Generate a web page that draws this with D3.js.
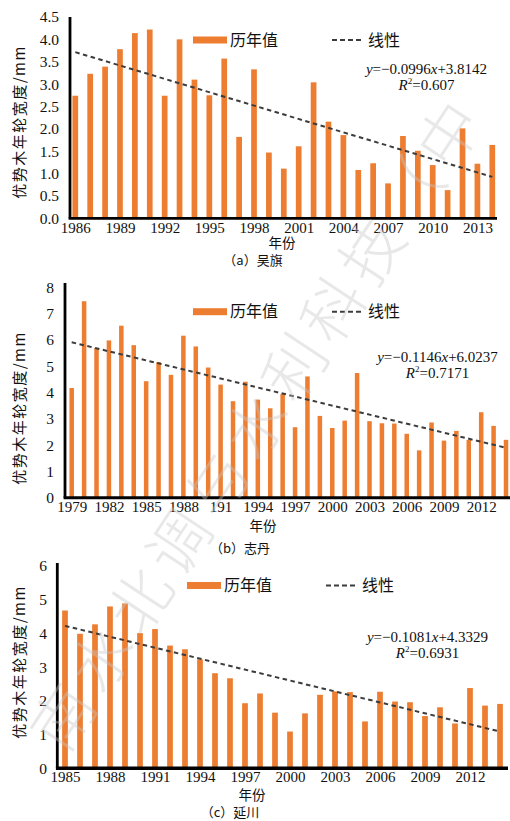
<!DOCTYPE html>
<html>
<head>
<meta charset="utf-8">
<script src="https://cdn.jsdelivr.net/npm/d3@7/dist/d3.min.js"></script>
<style>
  body { margin: 0; background: #fff; }
</style>
</head>
<body>
<svg id="chart" width="510" height="821"></svg>
<script>
// (a) 吴旗
var yearsA = [1986,1987,1988,1989,1990,1991,1992,1993,1994,1995,1996,1997,1998,1999,2000,
              2001,2002,2003,2004,2005,2006,2007,2008,2009,2010,2011,2012,2013,2014];
var valuesA = [2.74,3.23,3.39,3.78,4.14,4.22,2.74,4.00,3.10,2.75,3.57,1.82,3.33,1.47,1.11,
               1.61,3.04,2.16,1.86,1.08,1.23,0.78,1.84,1.51,1.19,0.63,2.01,1.22,1.64];
var tickYearsA = [1986,1989,1992,1995,1998,2001,2004,2007,2010,2013];
var tickLabelsA = ["1986","1989","1992","1995","1998","2001","2004","2007","2010","2013"];
var yTicksA = [0,0.5,1,1.5,2,2.5,3,3.5,4,4.5];
var trendA = [-0.0996, 3.8142];
var r2A = "0.607";

// (b) 志丹
var yearsB = [1979,1980,1981,1982,1983,1984,1985,1986,1987,1988,1989,1990,1991,1992,1993,1994,1995,1996,
              1997,1998,1999,2000,2001,2002,2003,2004,2005,2006,2007,2008,2009,2010,2011,2012,2013,2014];
var valuesB = [4.17,7.47,5.69,5.98,6.54,5.80,4.43,5.16,4.67,6.16,5.75,4.95,4.30,3.67,4.41,3.73,3.40,3.94,
               2.68,4.61,3.11,2.65,2.93,4.74,2.91,2.83,2.82,2.43,1.80,2.86,2.17,2.54,2.20,3.25,2.73,2.20];
var tickYearsB = [1979,1982,1985,1988,1991,1994,1997,2000,2003,2006,2009,2012];
var tickLabelsB = ["1979","1982","1985","1988","191","1994","1997","2000","2003","2006","2009","2012"];
var yTicksB = [0,1,2,3,4,5,6,7,8];
var trendB = [-0.1146, 6.0237];
var r2B = "0.7171";

// (c) 延川
var yearsC = [1985,1986,1987,1988,1989,1990,1991,1992,1993,1994,1995,1996,1997,1998,1999,
              2000,2001,2002,2003,2004,2005,2006,2007,2008,2009,2010,2011,2012,2013,2014];
var valuesC = [4.68,3.99,4.27,4.80,4.89,4.01,4.13,3.64,3.53,3.23,2.82,2.67,1.93,2.22,1.65,
               1.09,1.63,2.18,2.28,2.26,1.39,2.27,1.98,1.96,1.55,1.81,1.33,2.38,1.86,1.91];
var tickYearsC = [1985,1988,1991,1994,1997,2000,2003,2006,2009,2012];
var tickLabelsC = ["1985","1988","1991","1994","1997","2000","2003","2006","2009","2012"];
var yTicksC = [0,1,2,3,4,5,6];
var trendC = [-0.1081, 4.3329];
var r2C = "0.6931";

var watermark = ["南","水","北","调","与","水","利","科","技","（","中"];

var svg = d3.select("#chart");
var barColor = "#ED7D31";
var trendColor = "#3c3c3c";
var serif = "'Liberation Serif', 'Times New Roman', serif";
var cjk = "'Noto Sans CJK SC', sans-serif";

function drawPanel(p) {
  var g = svg.append("g");

  var x = d3.scalePoint().domain(p.years).range([p.xFirst, p.xLast]);
  var y = d3.scaleLinear().domain([0, p.yMax]).range([p.bottom, p.top]);

  // bars
  g.selectAll("rect.bar")
    .data(p.values)
    .enter().append("rect")
    .attr("class", "bar")
    .attr("x", function(d, i) { return x(p.years[i]) - p.barW / 2; })
    .attr("width", p.barW)
    .attr("y", function(d) { return y(d); })
    .attr("height", function(d) { return y(0) - y(d); })
    .attr("fill", barColor);

  // linear trend from the fitted equation, x = 1..n
  var n = p.years.length;
  var line = d3.line()
    .x(function(d) { return x(p.years[d - 1]); })
    .y(function(d) { return y(p.trend[0] * d + p.trend[1]); });
  g.append("path")
    .datum([1, n])
    .attr("d", line)
    .attr("fill", "none")
    .attr("stroke", trendColor)
    .attr("stroke-width", 2)
    .attr("stroke-dasharray", "4.5,3.5");

  // axes
  var yAxis = d3.axisLeft(y).tickValues(p.yTicks).tickSize(0).tickPadding(0)
    .tickFormat(d3.format(p.fmt));
  var ya = g.append("g").attr("transform", "translate(" + p.tickLabelX + ",0)").call(yAxis);
  ya.select(".domain").remove();
  ya.attr("font-family", null).attr("font-size", null);
  ya.selectAll("text").style("font-family", serif).style("font-size", "15.5px").attr("fill", "#111");

  var xAxis = d3.axisBottom(x).tickValues(p.tickYears).tickSize(0).tickPadding(0)
    .tickFormat(function(d) { return p.tickLabels[p.tickYears.indexOf(d)]; });
  var xa = g.append("g").attr("transform", "translate(0," + (p.bottom + p.xTickGap) + ")").call(xAxis);
  xa.select(".domain").remove();
  xa.attr("font-family", null).attr("font-size", null);
  xa.selectAll("text").style("font-family", serif).style("font-size", "15px").attr("fill", "#111");

  g.append("line")
    .attr("x1", p.left).attr("x2", p.left)
    .attr("y1", p.axisTop).attr("y2", p.bottom)
    .attr("stroke", "#000").attr("stroke-width", 2.8);
  g.append("line")
    .attr("x1", p.left - 1.4).attr("x2", p.xAxisEnd)
    .attr("y1", p.bottom).attr("y2", p.bottom)
    .attr("stroke", "#000").attr("stroke-width", p.xAxisW);

  // titles
  g.append("text")
    .attr("transform", "translate(" + p.yTitle[0] + "," + p.yTitle[1] + ") rotate(-90)")
    .attr("text-anchor", "middle").attr("dy", "0.35em")
    .style("font-family", cjk).style("font-size", "15px").style("letter-spacing", "1.5px")
    .attr("fill", "#111")
    .text("优势木年轮宽度/mm");
  g.append("text")
    .attr("x", p.xTitle[0]).attr("y", p.xTitle[1])
    .attr("text-anchor", "middle")
    .style("font-family", cjk).style("font-size", "13.5px").attr("fill", "#111")
    .text("年份");
  g.append("text")
    .attr("x", p.caption[0]).attr("y", p.caption[1])
    .attr("text-anchor", "middle")
    .style("font-family", cjk).style("font-size", "13px").attr("fill", "#111")
    .text(p.captionText);

  // legend
  var lg = g.append("g").attr("transform", "translate(" + p.legend[0] + "," + p.legend[1] + ")");
  lg.append("rect").attr("x", 0).attr("y", -3.5).attr("width", 34).attr("height", 7).attr("fill", barColor);
  lg.append("text").attr("x", 37).attr("dy", "0.36em")
    .style("font-family", cjk).style("font-size", "16px").attr("fill", "#111").text("历年值");
  lg.append("line").attr("x1", 139).attr("x2", 170).attr("y1", 0).attr("y2", 0)
    .attr("stroke", trendColor).attr("stroke-width", 2).attr("stroke-dasharray", "5,3");
  lg.append("text").attr("x", 175).attr("dy", "0.36em")
    .style("font-family", cjk).style("font-size", "16px").attr("fill", "#111").text("线性");

  // equation
  var eq = g.append("text")
    .attr("x", p.eq[0]).attr("y", p.eq[1])
    .attr("text-anchor", "middle")
    .style("font-family", serif).style("font-size", "15px").attr("fill", "#111");
  eq.append("tspan").style("font-style", "italic").text("y");
  eq.append("tspan").text("=\u2212" + Math.abs(p.trend[0]));
  eq.append("tspan").style("font-style", "italic").text("x");
  eq.append("tspan").text("+" + p.trend[1]);

  var r2 = g.append("text")
    .attr("x", p.eq[0]).attr("y", p.eq[1] + 16)
    .attr("text-anchor", "middle")
    .style("font-family", serif).style("font-size", "15px").attr("fill", "#111");
  r2.append("tspan").style("font-style", "italic").text("R");
  r2.append("tspan").style("font-size", "9px").attr("dy", -6).text("2");
  r2.append("tspan").attr("dy", 6).text("=" + p.r2);
}

drawPanel({
  years: yearsA, values: valuesA, tickYears: tickYearsA, tickLabels: tickLabelsA,
  yTicks: yTicksA, trend: trendA, r2: r2A, fmt: ".1f", yMax: 4.5,
  left: 70, top: 17, axisTop: 17, bottom: 218.3, xFirst: 75.3, xLast: 492.3, xAxisEnd: 497,
  xAxisW: 2.8, barW: 5.7, tickLabelX: 59, xTickGap: 4,
  yTitle: [20, 122], xTitle: [282, 248], caption: [253, 265], captionText: "（a）吴旗",
  legend: [193, 40], eq: [426.5, 74]
});

drawPanel({
  years: yearsB, values: valuesB, tickYears: tickYearsB, tickLabels: tickLabelsB,
  yTicks: yTicksB, trend: trendB, r2: r2B, fmt: "d", yMax: 8,
  left: 65, top: 287.3, axisTop: 283, bottom: 497.7, xFirst: 71.7, xLast: 506, xAxisEnd: 510,
  xAxisW: 3, barW: 4.5, tickLabelX: 54, xTickGap: 4,
  yTitle: [20, 408], xTitle: [263, 531], caption: [240, 553], captionText: "（b）志丹",
  legend: [193, 311.7], eq: [437.5, 361.5]
});

drawPanel({
  years: yearsC, values: valuesC, tickYears: tickYearsC, tickLabels: tickLabelsC,
  yTicks: yTicksC, trend: trendC, r2: r2C, fmt: "d", yMax: 6,
  left: 57.3, top: 566, axisTop: 563, bottom: 768.3, xFirst: 65, xLast: 500, xAxisEnd: 508,
  xAxisW: 3.6, barW: 5.7, tickLabelX: 47, xTickGap: 3.5,
  yTitle: [20, 662], xTitle: [252, 800], caption: [230, 817], captionText: "（c）延川",
  legend: [187, 585.5], eq: [427.5, 641.5]
});

// journal watermark, one glyph at a time along a diagonal
var wmStart = [64, 718], wmEnd = [450, 135];
var wmAngle = Math.atan2(wmEnd[1] - wmStart[1], wmEnd[0] - wmStart[0]) * 180 / Math.PI;
svg.append("g").selectAll("text")
  .data(watermark)
  .enter().append("text")
  .attr("transform", function(d, i) {
    var t = i / (watermark.length - 1);
    var cx = wmStart[0] + t * (wmEnd[0] - wmStart[0]);
    var cy = wmStart[1] + t * (wmEnd[1] - wmStart[1]);
    return "translate(" + cx + "," + cy + ") rotate(" + wmAngle + ")";
  })
  .attr("text-anchor", "middle").attr("dy", "0.35em")
  .style("font-family", cjk).style("font-size", "62px").style("font-weight", 300)
  .style("fill", "#c8c8c8").style("opacity", 0.4)
  .text(function(d) { return d; });
</script>
</body>
</html>
